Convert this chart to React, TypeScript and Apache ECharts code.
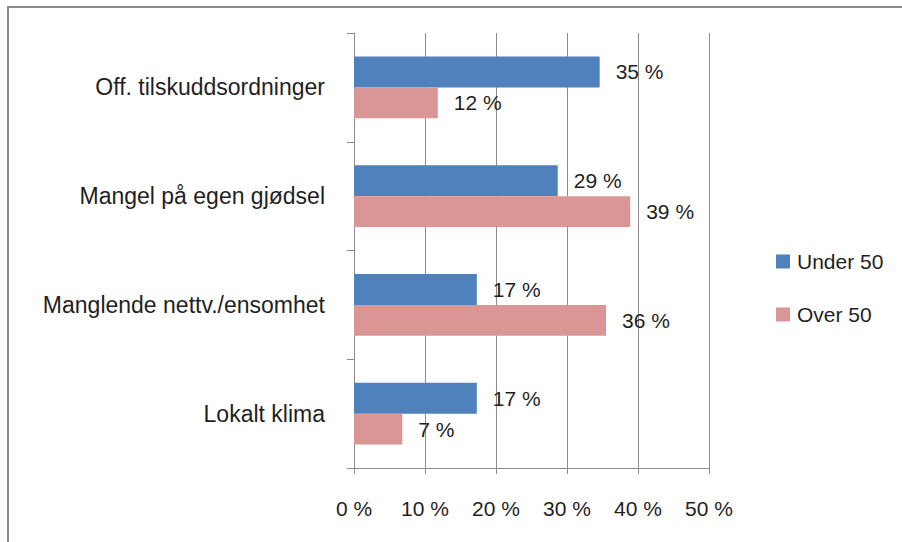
import React, { useEffect, useRef } from "react";
import * as echarts from "echarts";

const categories = [
  "Off. tilskuddsordninger",
  "Mangel på egen gjødsel",
  "Manglende nettv./ensomhet",
  "Lokalt klima",
];
const under50 = [34.6, 28.7, 17.3, 17.3];
const over50 = [11.8, 38.9, 35.5, 6.8];
const under50Labels = ["35 %", "29 %", "17 %", "17 %"];
const over50Labels = ["12 %", "39 %", "36 %", "7 %"];
const seriesNames = ["Under 50", "Over 50"];
const xTicks = [0, 10, 20, 30, 40, 50];

const FONT = "'Liberation Sans', Arial, sans-serif";
const TEXT = "#1f1f1f";
const GRID = "#8c8c8c";

export default function App() {
  const ref = useRef<HTMLDivElement>(null);
  useEffect(() => {
    document.body.style.margin = "0";
    const chart = echarts.init(ref.current!, null, { renderer: "svg" });
    chart.setOption({
      animation: false,
      backgroundColor: "#ffffff",
      graphic: [
        {
          type: "rect",
          shape: { x: 8, y: 7, width: 1200, height: 1000 },
          style: { fill: "none", stroke: "#8a8a8a", lineWidth: 2 },
          silent: true,
        },
      ],
      grid: { left: 354, right: 193, top: 33, bottom: 74, containLabel: false },
      legend: {
        orient: "vertical",
        left: 771,
        top: 246,
        itemWidth: 14,
        itemHeight: 14,
        itemGap: 32,
        icon: "rect",
        data: seriesNames,
        textStyle: { fontFamily: FONT, fontSize: 21, color: TEXT, padding: [0, 0, 0, 2] },
      },
      xAxis: {
        type: "value",
        min: xTicks[0],
        max: xTicks[xTicks.length - 1],
        interval: 10,
        axisLine: { show: true, lineStyle: { color: GRID, width: 1 } },
        axisTick: { show: true, length: 6, lineStyle: { color: GRID } },
        splitLine: { show: true, lineStyle: { color: GRID, width: 1 } },
        axisLabel: {
          formatter: "{value} %",
          fontFamily: FONT,
          fontSize: 21,
          color: TEXT,
          margin: 30,
        },
      },
      yAxis: {
        type: "category",
        data: categories,
        inverse: true,
        axisLine: { show: true, lineStyle: { color: GRID, width: 1 } },
        axisTick: { show: true, length: 7, alignWithLabel: false, lineStyle: { color: GRID } },
        axisLabel: {
          fontFamily: FONT,
          fontSize: 23,
          color: TEXT,
          margin: 29,
        },
      },
      series: [
        {
          name: seriesNames[0],
          type: "bar",
          data: under50,
          barGap: "0%",
          barCategoryGap: "43%",
          itemStyle: { color: "#4f81bd" },
          label: {
            show: true,
            position: "right",
            distance: 16,
            fontFamily: FONT,
            fontSize: 21,
            color: TEXT,
            formatter: (p: any) => under50Labels[p.dataIndex],
          },
        },
        {
          name: seriesNames[1],
          type: "bar",
          data: over50,
          barGap: "0%",
          barCategoryGap: "43%",
          itemStyle: { color: "#d99694" },
          label: {
            show: true,
            position: "right",
            distance: 16,
            fontFamily: FONT,
            fontSize: 21,
            color: TEXT,
            formatter: (p: any) => over50Labels[p.dataIndex],
          },
        },
      ],
    });
    return () => chart.dispose();
  }, []);
  return <div ref={ref} style={{ width: 902, height: 542 }} />;
}
